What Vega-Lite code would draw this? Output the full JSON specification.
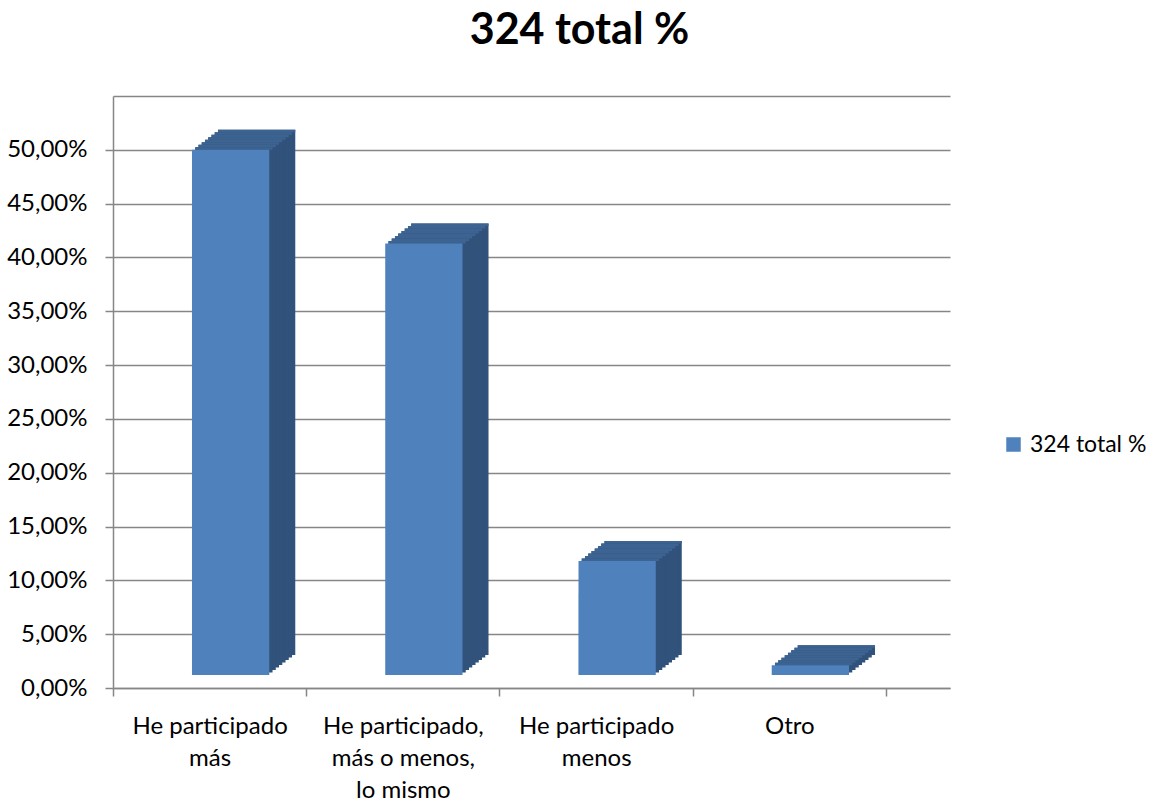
{
  "$schema": "https://vega.github.io/schema/vega-lite/v6.json",
  "autosize": "none",
  "width": 837,
  "height": 592,
  "padding": {"left": 113, "top": 96, "right": 203, "bottom": 113},
  "background": "white",
  "title": {"text": "324 total %", "font": "Lato", "fontSize": 43, "fontWeight": "bold", "color": "black", "anchor": "middle", "frame": "group", "dx": 48, "offset": 9, "baseline": "alphabetic"},
  "data": {"values": [
    {"respuesta": "He participado más", "pct": 0.488, "serie": "324 total %"},
    {"respuesta": "He participado, más o menos, lo mismo", "pct": 0.401, "serie": "324 total %"},
    {"respuesta": "He participado menos", "pct": 0.106, "serie": "324 total %"},
    {"respuesta": "Otro", "pct": 0.009, "serie": "324 total %"}
  ]},
  "encoding": {
    "x": {"field": "respuesta", "type": "nominal", "sort": null, "title": null,
      "scale": {"paddingInner": 0, "paddingOuter": 0.1656, "align": 0},
      "axis": {"labelAngle": 0, "tickBand": "extent", "tickSize": 8, "labelPadding": 18, "labelFontSize": 24, "labelLineHeight": 32, "labelBaseline": "top",
        "labelExpr": "datum.value == 'He participado más' ? ['He participado', 'más'] : datum.value == 'He participado, más o menos, lo mismo' ? ['He participado,', 'más o menos,', 'lo mismo'] : datum.value == 'He participado menos' ? ['He participado', 'menos'] : datum.value"}},
    "y": {"field": "pct", "type": "quantitative", "title": null,
      "scale": {"domain": [0, 0.55], "nice": false, "zero": true},
      "axis": {"values": [0, 0.05, 0.1, 0.15, 0.2, 0.25, 0.3, 0.35, 0.4, 0.45, 0.5, 0.55], "tickSize": 8, "labelPadding": 18, "labelFontSize": 24,
        "tickOpacity": {"condition": {"test": "datum.value > 0.5", "value": 0}, "value": 1},
        "labelExpr": "datum.value > 0.5 ? '' : replace(format(datum.value, '.2%'), '.', ',')"}}
  },
  "layer": [
    {"mark": {"type": "bar", "color": "#31527A", "width": {"band": 0.4}, "xOffset": 47, "yOffset": -33, "y2Offset": -33}},
    {"mark": {"type": "bar", "color": "#31527A", "width": {"band": 0.4}, "xOffset": 43.75, "yOffset": -30.5, "y2Offset": -30.5}},
    {"mark": {"type": "bar", "color": "#31527A", "width": {"band": 0.4}, "xOffset": 40.5, "yOffset": -28, "y2Offset": -28}},
    {"mark": {"type": "bar", "color": "#31527A", "width": {"band": 0.4}, "xOffset": 37.25, "yOffset": -25.5, "y2Offset": -25.5}},
    {"mark": {"type": "bar", "color": "#31527A", "width": {"band": 0.4}, "xOffset": 34, "yOffset": -23, "y2Offset": -23}},
    {"mark": {"type": "bar", "color": "#31527A", "width": {"band": 0.4}, "xOffset": 30.75, "yOffset": -20.5, "y2Offset": -20.5}},
    {"mark": {"type": "bar", "color": "#31527A", "width": {"band": 0.4}, "xOffset": 27.5, "yOffset": -18, "y2Offset": -18}},
    {"mark": {"type": "bar", "color": "#31527A", "width": {"band": 0.4}, "xOffset": 24.25, "yOffset": -15.5, "y2Offset": -15.5}},
    {"mark": {"type": "bar", "color": "#3C6391", "width": {"band": 0.4}, "xOffset": 24.25, "yOffset": -15.5, "y2Offset": -13}, "encoding": {"y2": {"field": "pct"}}},
    {"mark": {"type": "bar", "color": "#3C6391", "width": {"band": 0.4}, "xOffset": 27.5, "yOffset": -18, "y2Offset": -15.5}, "encoding": {"y2": {"field": "pct"}}},
    {"mark": {"type": "bar", "color": "#3C6391", "width": {"band": 0.4}, "xOffset": 30.75, "yOffset": -20.5, "y2Offset": -18}, "encoding": {"y2": {"field": "pct"}}},
    {"mark": {"type": "bar", "color": "#3C6391", "width": {"band": 0.4}, "xOffset": 34, "yOffset": -23, "y2Offset": -20.5}, "encoding": {"y2": {"field": "pct"}}},
    {"mark": {"type": "bar", "color": "#3C6391", "width": {"band": 0.4}, "xOffset": 37.25, "yOffset": -25.5, "y2Offset": -23}, "encoding": {"y2": {"field": "pct"}}},
    {"mark": {"type": "bar", "color": "#3C6391", "width": {"band": 0.4}, "xOffset": 40.5, "yOffset": -28, "y2Offset": -25.5}, "encoding": {"y2": {"field": "pct"}}},
    {"mark": {"type": "bar", "color": "#3C6391", "width": {"band": 0.4}, "xOffset": 43.75, "yOffset": -30.5, "y2Offset": -28}, "encoding": {"y2": {"field": "pct"}}},
    {"mark": {"type": "bar", "color": "#3C6391", "width": {"band": 0.4}, "xOffset": 47, "yOffset": -33, "y2Offset": -30.5}, "encoding": {"y2": {"field": "pct"}}},
    {"mark": {"type": "bar", "width": {"band": 0.4}, "xOffset": 21, "yOffset": -13, "y2Offset": -13},
      "encoding": {"color": {"field": "serie", "type": "nominal", "scale": {"range": ["#4F81BD"]},
        "legend": {"title": null, "orient": "none", "legendX": 889, "legendY": 337, "symbolType": "square", "symbolSize": 210, "symbolStrokeWidth": 0, "labelFontSize": 23, "labelOffset": 5}}}}
  ],
  "config": {
    "font": "Lato",
    "view": {"stroke": null},
    "axis": {"domainColor": "#868686", "tickColor": "#868686", "gridColor": "#868686", "gridWidth": 1.5, "domainWidth": 1.5, "tickWidth": 1.5, "labelColor": "black", "labelFont": "Lato"},
    "axisX": {"grid": false},
    "legend": {"labelColor": "black", "labelFont": "Lato"}
  }
}
